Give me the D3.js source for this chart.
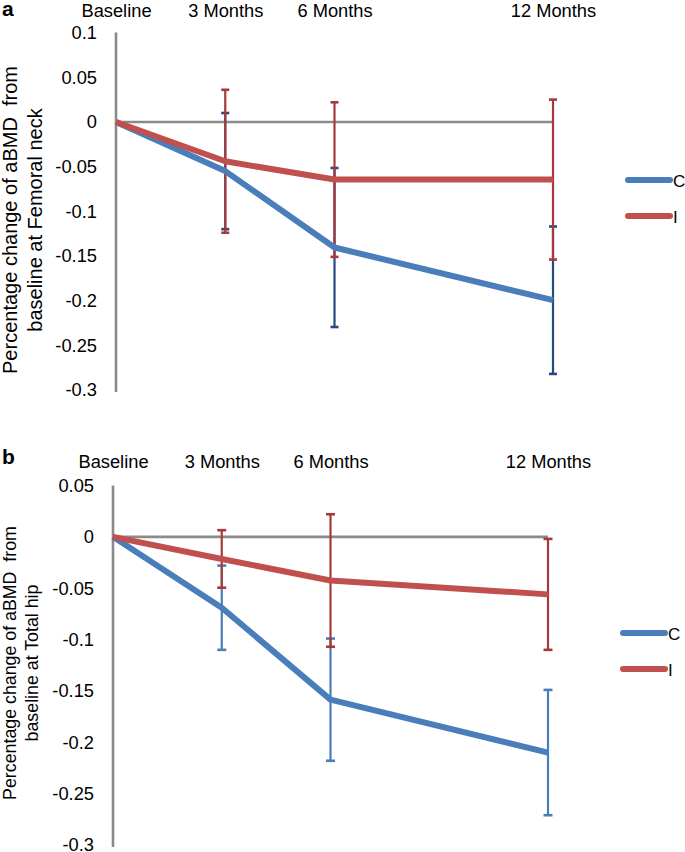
<!DOCTYPE html>
<html>
<head>
<meta charset="utf-8">
<script src="https://cdn.jsdelivr.net/npm/d3@7"></script>
<style>
  html, body { margin: 0; padding: 0; background: #fff; }
  svg { display: block; }
  text { font-family: "Liberation Sans", Arial, sans-serif; fill: #000; }
</style>
</head>
<body>
<svg id="chart" width="685" height="852"></svg>
<script>
// ---- Data ----
const months = [0, 3, 6, 12];
const categoryLabels = ["Baseline", "3 Months", "6 Months", "12 Months"];
const seriesNames = ["C", "I"];

// Panel a: Femoral neck
const yTicksA = [0.1, 0.05, 0, -0.05, -0.1, -0.15, -0.2, -0.25, -0.3];
const neckC = [0, -0.055, -0.1405, -0.1995];
const neckCErr = [0, 0.065, 0.089, 0.0825];
const neckI = [0, -0.044, -0.0645, -0.0645];
const neckIErr = [0, 0.08, 0.0865, 0.0895];

// Panel b: Total hip
const yTicksB = [0.05, 0, -0.05, -0.1, -0.15, -0.2, -0.25, -0.3];
const hipC = [0, -0.069, -0.1585, -0.21];
const hipCErr = [0, 0.041, 0.0595, 0.061];
const hipI = [0, -0.0215, -0.0425, -0.056];
const hipIErr = [0, 0.028, 0.0645, 0.054];

const svg = d3.select("#chart");
const FONT = '"Liberation Sans", Arial, sans-serif';

function panel(cfg) {
  const g = svg.append("g");
  const x = d3.scaleLinear().domain([0, 12]).range(cfg.xRange);
  const y = d3.scaleLinear().domain(cfg.yDomain).range(cfg.yRange);

  // panel letter
  g.append("text").attr("x", cfg.letterX).attr("y", cfg.letterY)
    .attr("font-size", 21).attr("font-weight", "bold").text(cfg.letter);

  // top category labels
  const top = g.append("g").attr("transform", `translate(0,${cfg.catY})`)
    .call(d3.axisTop(x).tickValues(months)
      .tickFormat((d, i) => categoryLabels[i]).tickSize(0).tickPadding(0));
  top.select(".domain").remove();
  top.selectAll("text").attr("font-size", 18.3)
    .style("font-family", FONT).attr("fill", "#000");

  // y axis
  const ax = g.append("g").attr("transform", `translate(${cfg.xRange[0]},0)`)
    .call(d3.axisLeft(y).tickValues(cfg.ticks)
      .tickFormat(d => String(+d.toFixed(2)))
      .tickSize(0).tickPadding(19).tickSizeOuter(0));
  ax.select(".domain").attr("stroke", "#8a8a8a").attr("stroke-width", 2.6)
    .attr("d", `M0,${y(cfg.yDomain[1])}V${y(cfg.yDomain[0]) + 2}`);
  ax.selectAll("text").attr("font-size", 18.3)
    .style("font-family", FONT).attr("fill", "#000");

  // zero gridline
  g.append("line").attr("x1", x(0)).attr("x2", x(12))
    .attr("y1", y(0)).attr("y2", y(0))
    .attr("stroke", "#8a8a8a").attr("stroke-width", 2.6);

  // y title
  const tt = g.append("text").attr("transform", `translate(${cfg.titleX},${cfg.titleY}) rotate(-90)`)
    .attr("text-anchor", "middle").attr("font-size", cfg.titleSize);
  tt.append("tspan").attr("x", 0).attr("dy", 0).text("Percentage change of aBMD\u00a0 from");
  tt.append("tspan").attr("x", 0).attr("dy", cfg.titleGap).text(cfg.title2);

  // error bars
  cfg.series.forEach(s => {
    const eg = g.append("g");
    months.forEach((m, i) => {
      if (!s.err[i]) return;
      const cx = x(m), hi = y(s.vals[i] + s.err[i]), lo = y(s.vals[i] - s.err[i]);
      eg.append("line").attr("x1", cx).attr("x2", cx).attr("y1", hi).attr("y2", lo)
        .attr("stroke", s.errColor).attr("stroke-width", 2.2);
      [hi, lo].forEach(yy => eg.append("line")
        .attr("x1", cx - cfg.cap).attr("x2", cx + cfg.cap).attr("y1", yy).attr("y2", yy)
        .attr("stroke", s.errColor).attr("stroke-width", 2.6));
    });
  });

  // lines
  const line = d3.line().x((d, i) => x(months[i])).y(d => y(d));
  cfg.series.forEach(s => {
    g.append("path").datum(s.vals).attr("d", line).attr("fill", "none")
      .attr("stroke", s.color).attr("stroke-width", 6).attr("stroke-linejoin", "round");
  });

  // legend
  cfg.series.forEach((s, i) => {
    const ly = cfg.legendY + i * cfg.legendGap;
    g.append("line").attr("x1", cfg.legendX).attr("x2", cfg.legendX + 42)
      .attr("y1", ly).attr("y2", ly).attr("stroke", s.color)
      .attr("stroke-width", 6).attr("stroke-linecap", "round");
    g.append("text").attr("x", cfg.legendX + 45).attr("y", ly + 6.5)
      .attr("font-size", 17).text(s.name);
  });
}

panel({
  letter: "a", letterX: 2, letterY: 16,
  xRange: [116, 553], yDomain: [-0.3, 0.1], yRange: [390, 32.6],
  ticks: yTicksA, catY: 17,
  titleX: 17, titleY: 220, titleSize: 20, titleGap: 25,
  title2: "baseline at Femoral neck",
  cap: 4,
  legendX: 628, legendY: 180, legendGap: 36,
  series: [
    { name: seriesNames[0], vals: neckC, err: neckCErr, color: "#4a7ebb", errColor: "#254a80" },
    { name: seriesNames[1], vals: neckI, err: neckIErr, color: "#c0504d", errColor: "#a7393b" }
  ]
});

panel({
  letter: "b", letterX: 2, letterY: 464,
  xRange: [113, 548], yDomain: [-0.3, 0.05], yRange: [845, 485.5],
  ticks: yTicksB, catY: 468,
  titleX: 16, titleY: 663, titleSize: 17.8, titleGap: 22,
  title2: "baseline at Total hip",
  cap: 4.5,
  legendX: 623, legendY: 633, legendGap: 36,
  series: [
    { name: seriesNames[0], vals: hipC, err: hipCErr, color: "#4a7ebb", errColor: "#4a7ebb" },
    { name: seriesNames[1], vals: hipI, err: hipIErr, color: "#c0504d", errColor: "#a7393b" }
  ]
});
</script>
</body>
</html>
